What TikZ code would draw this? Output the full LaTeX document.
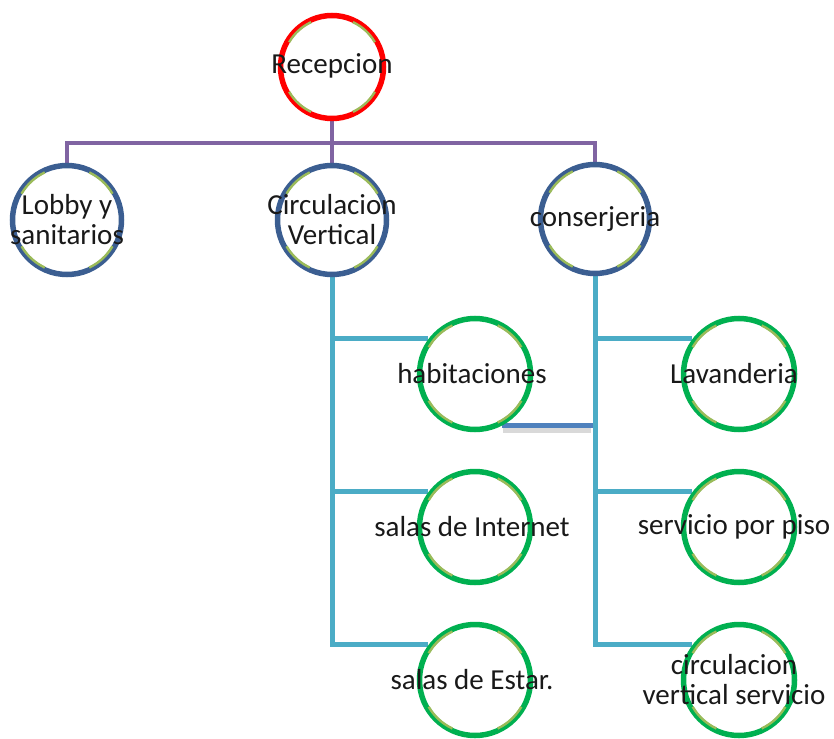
\documentclass[tikz,border=0pt]{standalone}
\usepackage{fontspec}
\setmainfont{Carlito}
\usepackage{xcolor}
\definecolor{orgRed}{RGB}{255, 0, 0}
\definecolor{orgNavy}{RGB}{59, 94, 145}
\definecolor{orgPurple}{RGB}{128, 100, 162}
\definecolor{orgTeal}{RGB}{75, 172, 198}
\definecolor{orgGreen}{RGB}{0, 176, 80}
\definecolor{orgOlive}{RGB}{155, 187, 89}
\definecolor{orgBlue}{RGB}{79, 129, 189}
\usetikzlibrary{calc, backgrounds}

\begin{document}
\begin{tikzpicture}[
    x=1pt, y=-1pt,
    orgRing/.style={
        circle, line width=5.5pt, fill=white,
        minimum size=109pt, inner sep=0pt
    },
    orgTop/.style={orgRing, draw=orgRed, minimum size=103pt},
    orgMid/.style={orgRing, draw=orgNavy},
    orgLeaf/.style={orgRing, draw=orgGreen, minimum size=111pt},
    orgText/.style={
        font=\fontsize{29}{30}\selectfont, text=black!90,
        align=center, inner sep=0pt
    },
    orgShine/.style={draw=orgOlive, line width=2.4pt},
    orgLink/.style={line width=4.5pt, draw=orgPurple},
    orgBranch/.style={line width=5pt, draw=orgTeal},
    orgBar/.style={line width=5pt, draw=orgBlue},
    orgBarShade/.style={line width=5pt, draw=black, opacity=0.15}
]

    \useasboundingbox (0,0) rectangle (834,738);

    % Rings
    \node[orgTop] (recep) at (332, 67) {};
    \node[orgMid] (lobby) at (67, 220) {};
    \node[orgMid] (circV) at (332, 220) {};
    \node[orgMid] (consj) at (595, 219) {};

    \node[orgLeaf] (habit) at (475, 374) {};
    \node[orgLeaf] (salasI) at (475, 527) {};
    \node[orgLeaf] (salasE) at (475, 680) {};
    \node[orgLeaf] (lavan) at (739, 374) {};
    \node[orgLeaf] (servP) at (739, 527) {};
    \node[orgLeaf] (circS) at (739, 680) {};

    \coordinate (bus) at (332, 143);

    % Links
    \begin{scope}[on background layer]
        \draw[orgLink] (recep) -- (circV);
        \draw[orgLink] (lobby) |- (bus) -| (consj);

        \draw[orgBarShade] ([shift={(1,5)}]habit.-62) -- ([shift={(-4,5)}]habit.-62 -| consj);
        \draw[orgBar] (habit.-62) -- (habit.-62 -| consj);

        \foreach \leaf in {habit, salasI, salasE}
            \draw[orgBranch] (circV) |- (\leaf.143);
        \foreach \leaf in {lavan, servP, circS}
            \draw[orgBranch] (consj) |- (\leaf.143);
    \end{scope}

    % Olive shine inside the rings
    \foreach \n/\r in {recep/49.5, lobby/52.5, circV/52.5, consj/52.5, habit/53.5,
                       salasI/53.5, salasE/53.5, lavan/53.5, servP/53.5, circS/53.5}
        \foreach \a in {30, 115, 210, 295}
            \draw[orgShine] (\n) ++(\a:\r) arc[start angle=\a, end angle=\a+35, radius=\r];

    % Texts
    \node[orgText] (recepT) at ([yshift=1pt]recep) {Recepcion};
    \node[orgText] (lobbyT) at (lobby) {Lobby y\\sanitarios};
    \node[orgText] (circVT) at (circV) {Circulacion\\Vertical};
    \node[orgText] (consjT) at (consj) {conserjeria};
    \node[orgText] (habitT) at ([xshift=-3pt]habit) {habitaciones};
    \node[orgText] (salasIT) at ([xshift=-3pt]salasI) {salas de Internet};
    \node[orgText] (salasET) at ([xshift=-3pt]salasE) {salas de Estar.};
    \node[orgText] (lavanT) at ([xshift=-5pt]lavan) {Lavanderia};
    \node[orgText] (servPT) at ([xshift=-5pt]servP) {servicio por piso};
    \node[orgText] (circST) at ([xshift=-5pt]circS) {circulacion\\vertical servicio};

\end{tikzpicture}
\end{document}
